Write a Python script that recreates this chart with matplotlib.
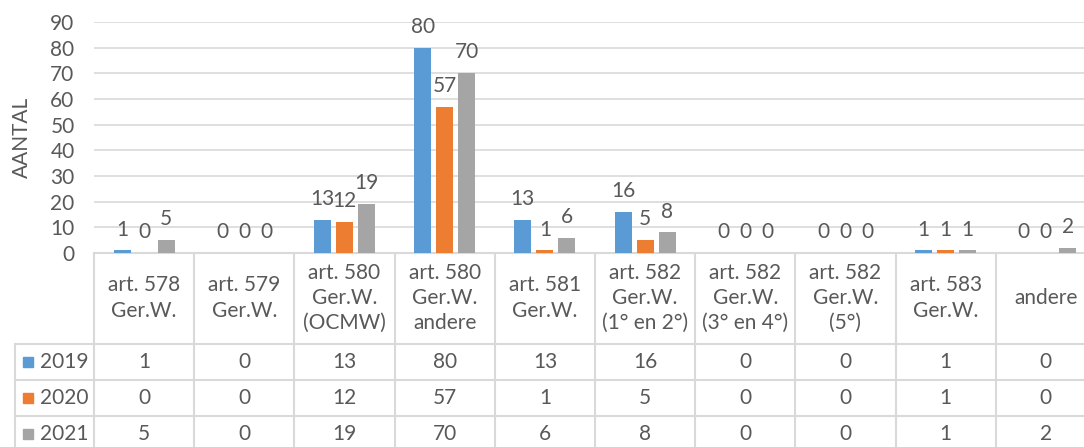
import numpy as np
import matplotlib
matplotlib.use('Agg')
import matplotlib.pyplot as plt
from matplotlib.transforms import blended_transform_factory

# data
categories = ['art. 578\nGer.W.', 'art. 579\nGer.W.', 'art. 580\nGer.W.\n(OCMW)', 'art. 580\nGer.W.\nandere',
              'art. 581\nGer.W.', 'art. 582\nGer.W.\n(1° en 2°)', 'art. 582\nGer.W.\n(3° en 4°)',
              'art. 582\nGer.W.\n(5°)', 'art. 583\nGer.W.', 'andere']
years = ['2019', '2020', '2021']
v2019 = [1, 0, 13, 80, 13, 16, 0, 0, 1, 0]
v2020 = [0, 0, 12, 57, 1, 5, 0, 0, 1, 0]
v2021 = [5, 0, 19, 70, 6, 8, 0, 0, 1, 2]
yticks = [0, 10, 20, 30, 40, 50, 60, 70, 80, 90]

series = [v2019, v2020, v2021]
colors = ['#5B9BD5', '#ED7D31', '#A5A5A5']
txt = '#595959'
grid_c = '#D9D9D9'

plt.rcParams['font.family'] = ['Lato', 'DejaVu Sans']
fs = 15

W, H = 1084, 447
fig = plt.figure(figsize=(W / 100, H / 100), dpi=100)
ax = fig.add_axes([94 / W, (H - 253) / H, 1002 / W, 231 / H])

x = np.arange(len(categories))
bw = 0.17
step = 0.22
for k, vals in enumerate(series):
    pos = x + (k - 1) * step
    ax.bar(pos, vals, width=bw, color=colors[k], zorder=3)
    for px, v in zip(pos, vals):
        ax.annotate(str(v), (px, v), xytext=(0, 15), textcoords='offset points',
                    ha='center', va='center', fontsize=fs, color=txt)

ax.set_xlim(-0.5, len(categories) - 0.5)
ax.set_ylim(0, 90)
ax.set_yticks(yticks)
ax.set_xticks([])
ax.tick_params(axis='y', length=0, pad=14, labelsize=fs, labelcolor=txt)
ax.grid(axis='y', color=grid_c, lw=1.2, zorder=0)
for s in ['top', 'right', 'left']:
    ax.spines[s].set_visible(False)
ax.spines['bottom'].set_color(grid_c)
ax.spines['bottom'].set_linewidth(1.5)
ax.set_ylabel('AANTAL', fontsize=fs, color=txt)
ax.yaxis.set_label_coords(-0.062, 0.5)

# data table below the plot
tab = fig.add_axes([0, 0, 1, 1], zorder=-1)
tab.set_xlim(0, W)
tab.set_ylim(H, 0)
tab.axis('off')
tr = blended_transform_factory(ax.transData, tab.transData)
lw = 1.5
row_y = [253, 344, 380, 416, 452]
# vertical lines between categories
for i in range(len(categories) + 1):
    tab.plot([i - 0.5, i - 0.5], [253, H], color=grid_c, lw=lw, transform=tr, clip_on=False)
# horizontal row lines
for yy in row_y[1:4]:
    tab.plot([15, W + 20], [yy, yy], color=grid_c, lw=lw)
tab.plot([15, 15], [344, H], color=grid_c, lw=lw)

for i, c in enumerate(categories):
    tab.text(i, 298, c, ha='center', va='center', fontsize=fs, color=txt,
             linespacing=1.32, transform=tr)
for r, (yr, vals) in enumerate(zip(years, series)):
    yc = (row_y[r + 1] + row_y[r + 2]) / 2
    tab.add_patch(plt.Rectangle((23, yc - 5), 10, 10, color=colors[r]))
    tab.text(40, yc, yr, ha='left', va='center', fontsize=fs, color=txt)
    for i, v in enumerate(vals):
        tab.text(i, yc, str(v), ha='center', va='center', fontsize=fs, color=txt, transform=tr)

fig.savefig('out.png', dpi=100)
